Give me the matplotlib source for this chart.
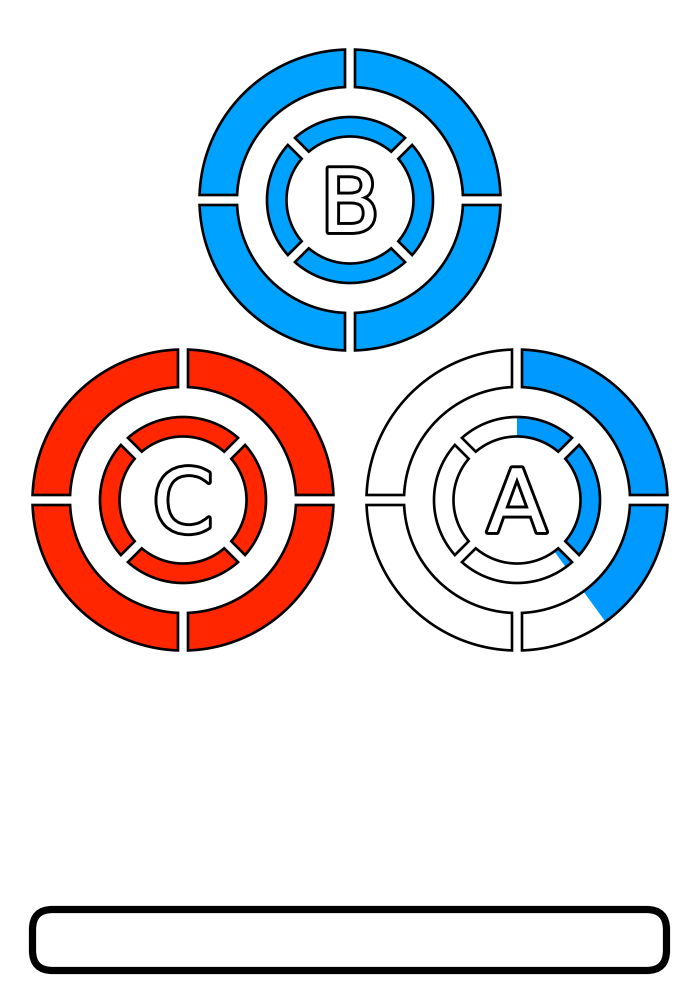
import numpy as np
import matplotlib.pyplot as plt
from matplotlib.patches import Polygon, FancyBboxPatch
import matplotlib.patheffects as pe

# three dials, each with an outer and inner ring of 4 segments
labels = ['B', 'C', 'A']
center_x = [350, 183, 517]
center_y = [200, 500, 500]
ring_colors = ['#00a2ff', '#ff2600', '#0099ff']
outer_fill = [1.0, 1.0, 0.4]   # fraction of outer ring filled, clockwise from top
inner_fill = [1.0, 1.0, 0.4]

fig = plt.figure(figsize=(7, 10), dpi=100)
ax = fig.add_axes([0, 0, 1, 1])
ax.set_xlim(0, 700)
ax.set_ylim(1000, 0)
ax.set_aspect('equal')
ax.axis('off')


def arc(cx, cy, r, s, e, n=80):
    ts = np.linspace(s, e, n)
    return np.column_stack([cx + r * np.sin(ts), cy - r * np.cos(ts)])


def segment(cx, cy, r_in, r_out, t1, t2, half_gap=5.0):
    a1, a2 = np.radians(t1), np.radians(t2)
    do = np.arcsin(half_gap / r_out)
    di = np.arcsin(half_gap / r_in)
    return np.vstack([arc(cx, cy, r_out, a1 + do, a2 - do),
                      arc(cx, cy, r_in, a2 - di, a1 + di)])


def draw_ring(cx, cy, r_in, r_out, start, frac, color):
    sector = np.vstack([[cx, cy], arc(cx, cy, r_out + 20, 0, np.radians(360 * frac), 200)])
    for k in range(4):
        t1 = start + 90 * k
        pts = segment(cx, cy, r_in, r_out, t1, t1 + 90)
        base = Polygon(pts, closed=True, facecolor='white', edgecolor='none', zorder=1)
        ax.add_patch(base)
        if frac > 0:
            fill = Polygon(sector, closed=True, facecolor=color, edgecolor='none', zorder=2)
            ax.add_patch(fill)
            fill.set_clip_path(base)
        ax.add_patch(Polygon(pts, closed=True, facecolor='none', edgecolor='black',
                             linewidth=1.9, joinstyle='miter', zorder=3))


for lab, cx, cy, col, fo, fi in zip(labels, center_x, center_y, ring_colors, outer_fill, inner_fill):
    draw_ring(cx, cy, 113, 150.5, 0, fo, col)
    draw_ring(cx, cy, 63.5, 83, 45, fi, col)
    ax.text(cx, cy + 32, lab, ha='center', va='baseline', fontsize=63,
            family='DejaVu Sans', color='white', zorder=4,
            path_effects=[pe.Stroke(linewidth=4.2, foreground='black', joinstyle='round',
                                    capstyle='round'),
                          pe.Normal()])

bar = FancyBboxPatch((32.5, 909.5), 634, 61, boxstyle='round,pad=0,rounding_size=20',
                     facecolor='white', edgecolor='black', linewidth=5.2)
ax.add_patch(bar)

fig.savefig('out.png', dpi=100, facecolor='white')
